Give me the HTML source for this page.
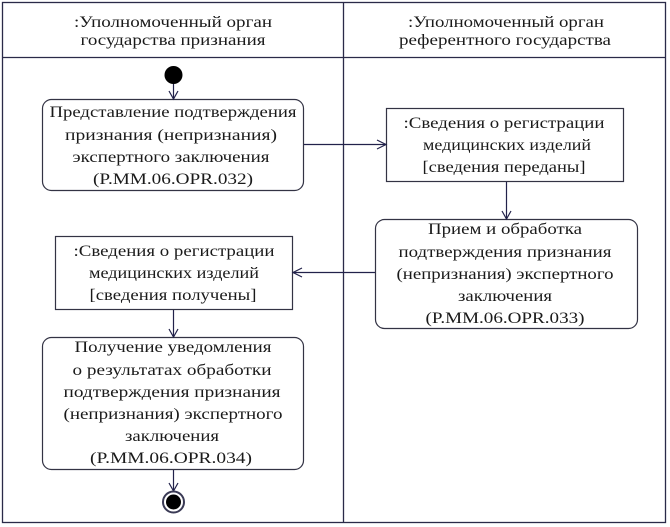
<!DOCTYPE html>
<html><head><meta charset="utf-8"><style>
html,body{margin:0;padding:0;background:#fff;}
svg{display:block;}
.t text{font-family:"Liberation Serif","Times New Roman",Times,serif;font-size:16px;fill:#1a1a1a;text-anchor:middle;}
</style></head><body>
<svg width="670" height="527" viewBox="0 0 670 527" xmlns="http://www.w3.org/2000/svg">
<g fill="none" stroke="#2a2a48" stroke-width="1.3">
<rect x="2.5" y="2.5" width="663" height="520"/>
<line x1="2.5" y1="57.5" x2="665.5" y2="57.5"/>
<line x1="343.5" y1="2.5" x2="343.5" y2="522.5"/>
</g>
<g fill="none" stroke="#333344" stroke-width="1.2">
<rect x="42.5" y="99.5" width="261" height="91" rx="9"/>
<rect x="386.5" y="108.5" width="237" height="73"/>
<rect x="375.5" y="219.5" width="262" height="109" rx="9"/>
<rect x="55.5" y="236.5" width="237" height="73"/>
<rect x="42.5" y="337.5" width="261" height="132" rx="9"/>
</g>
<g fill="none" stroke="#22224a" stroke-width="1.2">
<line x1="173.5" y1="83" x2="173.5" y2="99"/>
<polyline points="169,91 173.5,99 178,91"/>
<line x1="304" y1="144.5" x2="386" y2="144.5"/>
<polyline points="377,140 386,144.5 377,149"/>
<line x1="506.5" y1="182" x2="506.5" y2="219"/>
<polyline points="502,211 506.5,219 511,211"/>
<line x1="375" y1="272.5" x2="293" y2="272.5"/>
<polyline points="302,268 293,272.5 302,277"/>
<line x1="173.5" y1="310" x2="173.5" y2="337"/>
<polyline points="169,329 173.5,337 178,329"/>
<line x1="173.5" y1="470" x2="173.5" y2="491"/>
<polyline points="169,483 173.5,491 178,483"/>
</g>
<circle cx="173.5" cy="75" r="9" fill="#000"/>
<circle cx="173.5" cy="502" r="10.5" fill="#fff" stroke="#3a3a55" stroke-width="2"/>
<circle cx="173.5" cy="502" r="7.5" fill="#000"/>
<g class="t">
<text x="173" y="27" textLength="198" lengthAdjust="spacingAndGlyphs">:Уполномоченный орган</text>
<text x="173" y="45" textLength="185" lengthAdjust="spacingAndGlyphs">государства признания</text>
<text x="506" y="27" textLength="196" lengthAdjust="spacingAndGlyphs">:Уполномоченный орган</text>
<text x="505" y="45" textLength="212" lengthAdjust="spacingAndGlyphs">референтного государства</text>
<text x="173" y="117" textLength="247" lengthAdjust="spacingAndGlyphs">Представление подтверждения</text>
<text x="171" y="140" textLength="212" lengthAdjust="spacingAndGlyphs">признания (непризнания)</text>
<text x="171" y="162" textLength="197" lengthAdjust="spacingAndGlyphs">экспертного заключения</text>
<text x="173" y="184" textLength="160" lengthAdjust="spacingAndGlyphs">(P.MM.06.OPR.032)</text>
<text x="504" y="128" textLength="201" lengthAdjust="spacingAndGlyphs">:Сведения о регистрации</text>
<text x="507" y="150" textLength="168" lengthAdjust="spacingAndGlyphs">медицинских изделий</text>
<text x="504" y="172" textLength="163" lengthAdjust="spacingAndGlyphs">[сведения переданы]</text>
<text x="505" y="234" textLength="154" lengthAdjust="spacingAndGlyphs">Прием и обработка</text>
<text x="505" y="257" textLength="213" lengthAdjust="spacingAndGlyphs">подтверждения признания</text>
<text x="505" y="279" textLength="217" lengthAdjust="spacingAndGlyphs">(непризнания) экспертного</text>
<text x="505" y="301" textLength="94" lengthAdjust="spacingAndGlyphs">заключения</text>
<text x="505" y="323" textLength="159" lengthAdjust="spacingAndGlyphs">(P.MM.06.OPR.033)</text>
<text x="174" y="256" textLength="201" lengthAdjust="spacingAndGlyphs">:Сведения о регистрации</text>
<text x="174" y="278" textLength="170" lengthAdjust="spacingAndGlyphs">медицинских изделий</text>
<text x="173" y="300" textLength="167" lengthAdjust="spacingAndGlyphs">[сведения получены]</text>
<text x="173" y="352" textLength="197" lengthAdjust="spacingAndGlyphs">Получение уведомления</text>
<text x="172" y="375" textLength="199" lengthAdjust="spacingAndGlyphs">о результатах обработки</text>
<text x="172" y="397" textLength="217" lengthAdjust="spacingAndGlyphs">подтверждения признания</text>
<text x="173" y="419" textLength="219" lengthAdjust="spacingAndGlyphs">(непризнания) экспертного</text>
<text x="172" y="441" textLength="94" lengthAdjust="spacingAndGlyphs">заключения</text>
<text x="171" y="463" textLength="162" lengthAdjust="spacingAndGlyphs">(P.MM.06.OPR.034)</text>
</g>
</svg>
</body></html>
